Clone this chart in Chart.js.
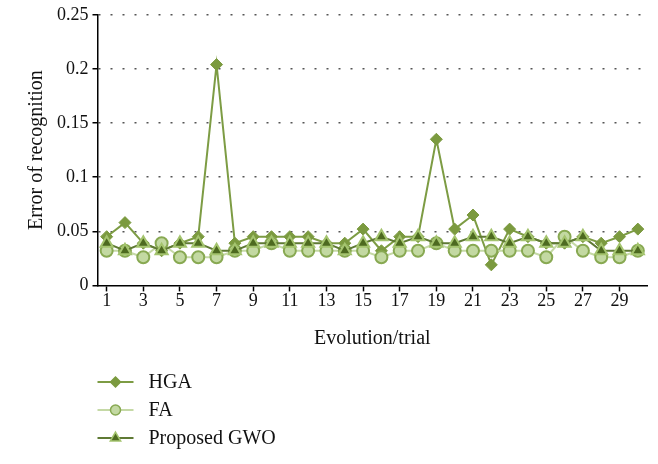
<!DOCTYPE html>
<html>
<head>
<meta charset="utf-8">
<script src="https://cdn.jsdelivr.net/npm/chart.js"></script>
<style>
  html, body { margin: 0; padding: 0; background: #fff; }
  #wrap { width: 658px; height: 464px; }
</style>
</head>
<body>
<div id="wrap"><canvas id="myChart" width="658" height="464"></canvas></div>
<script>
const trials = ['1','2','3','4','5','6','7','8','9','10','11','12','13','14','15',
                '16','17','18','19','20','21','22','23','24','25','26','27','28','29','30'];
const hga = [0.045, 0.058, 0.039, 0.032, 0.039, 0.045, 0.204, 0.039, 0.045, 0.045,
             0.045, 0.045, 0.039, 0.039, 0.052, 0.032, 0.045, 0.045, 0.135, 0.052,
             0.065, 0.019, 0.052, 0.045, 0.039, 0.039, 0.045, 0.039, 0.045, 0.052];
const fa = [0.032, 0.032, 0.026, 0.039, 0.026, 0.026, 0.026, 0.032, 0.032, 0.039,
            0.032, 0.032, 0.032, 0.032, 0.032, 0.026, 0.032, 0.032, 0.039, 0.032,
            0.032, 0.032, 0.032, 0.032, 0.026, 0.045, 0.032, 0.026, 0.026, 0.032];
const gwo = [0.039, 0.032, 0.039, 0.032, 0.039, 0.039, 0.032, 0.032, 0.039, 0.039,
             0.039, 0.039, 0.039, 0.032, 0.039, 0.045, 0.039, 0.045, 0.039, 0.039,
             0.045, 0.045, 0.039, 0.045, 0.039, 0.039, 0.045, 0.032, 0.032, 0.032];
const yTickLabels = ['0', '0.05', '0.1', '0.15', '0.2', '0.25'];
const seriesNames = ['HGA', 'FA', 'Proposed GWO'];

const FONT = '"Liberation Serif", "DejaVu Serif", serif';

// legend drawn as a vertical list under the x axis title
const stackedLegend = {
  id: 'stackedLegend',
  afterDraw(chart) {
    const {ctx, chartArea} = chart;
    const x0 = chartArea.left;
    chart.data.datasets.forEach((ds, i) => {
      const y = chart.height - 82 + i * 28;
      ctx.save();
      ctx.strokeStyle = ds.borderColor;
      ctx.lineWidth = 2;
      ctx.beginPath();
      ctx.moveTo(x0, y);
      ctx.lineTo(x0 + 36, y);
      ctx.stroke();
      ctx.fillStyle = ds.pointBackgroundColor;
      ctx.strokeStyle = ds.pointBorderColor;
      ctx.lineWidth = 1.5;
      Chart.helpers.drawPoint(ctx, {
        pointStyle: ds.pointStyle,
        radius: ds.legendRadius,
        borderWidth: 1.5,
        rotation: 0
      }, x0 + 18, y);
      ctx.fillStyle = '#111';
      ctx.font = '20px ' + FONT;
      ctx.textBaseline = 'middle';
      ctx.textAlign = 'left';
      ctx.fillText(seriesNames[i], x0 + 51, y + 1);
      ctx.restore();
    });
  }
};

const ctx = document.getElementById('myChart').getContext('2d');
const myChart = new Chart(ctx, {
  type: 'line',
  data: {
    labels: trials,
    datasets: [{
      label: seriesNames[0],
      data: hga,
      borderColor: '#7d9c44',
      borderWidth: 2,
      pointStyle: 'rectRot',
      pointRadius: 6,
      pointBackgroundColor: '#7b9a3f',
      pointBorderColor: '#7b9a3f',
      pointBorderWidth: 1,
      legendRadius: 5,
      order: 3,
      tension: 0
    }, {
      label: seriesNames[1],
      data: fa,
      borderColor: '#c5d9a6',
      borderWidth: 2,
      pointStyle: 'circle',
      pointRadius: 6,
      pointBackgroundColor: '#c3d9a2',
      pointBorderColor: '#88a952',
      pointBorderWidth: 2,
      legendRadius: 5,
      order: 2,
      tension: 0
    }, {
      label: seriesNames[2],
      data: gwo,
      borderColor: '#5f7a34',
      borderWidth: 2,
      pointStyle: 'triangle',
      pointRadius: 7,
      pointBackgroundColor: '#4d6a20',
      pointBorderColor: '#a4c46e',
      pointBorderWidth: 2,
      legendRadius: 6,
      order: 1,
      tension: 0
    }]
  },
  options: {
    responsive: false,
    animation: false,
    layout: {
      padding: { top: 12, right: 11, left: 25, bottom: 113 }
    },
    plugins: {
      legend: { display: false },
      tooltip: { enabled: false }
    },
    scales: {
      x: {
        offset: true,
        grid: {
          drawOnChartArea: false,
          tickLength: 6,
          tickWidth: 1.5,
          tickColor: (c) => (c.index % 2 === 0 ? '#000' : 'rgba(0,0,0,0)')
        },
        border: { color: '#000', width: 1.5 },
        ticks: {
          autoSkip: false,
          maxRotation: 0,
          padding: -1,
          color: '#111',
          font: { family: FONT, size: 18 },
          callback: function(value, index) {
            return index % 2 === 0 ? this.getLabelForValue(value) : '';
          }
        },
        title: {
          display: true,
          text: 'Evolution/trial',
          color: '#111',
          font: { family: FONT, size: 20 },
          padding: { top: 16, bottom: 0 }
        }
      },
      y: {
        min: 0,
        max: 0.25,
        grid: {
          color: (c) => (c.index === 0 ? 'rgba(0,0,0,0)' : '#555'),
          lineWidth: 1.5,
          tickColor: '#000',
          tickLength: 5,
          tickWidth: 1.5,
          tickBorderDash: []
        },
        border: { color: '#000', width: 1.5, dash: [2, 10] },
        ticks: {
          stepSize: 0.05,
          padding: 4,
          color: '#111',
          font: { family: FONT, size: 18 },
          callback: function(value, index) {
            return yTickLabels[index];
          }
        },
        title: {
          display: true,
          text: 'Error of recognition',
          color: '#111',
          font: { family: FONT, size: 20 },
          padding: { top: 0, bottom: 4 }
        }
      }
    }
  },
  plugins: [stackedLegend]
});
</script>
</body>
</html>
